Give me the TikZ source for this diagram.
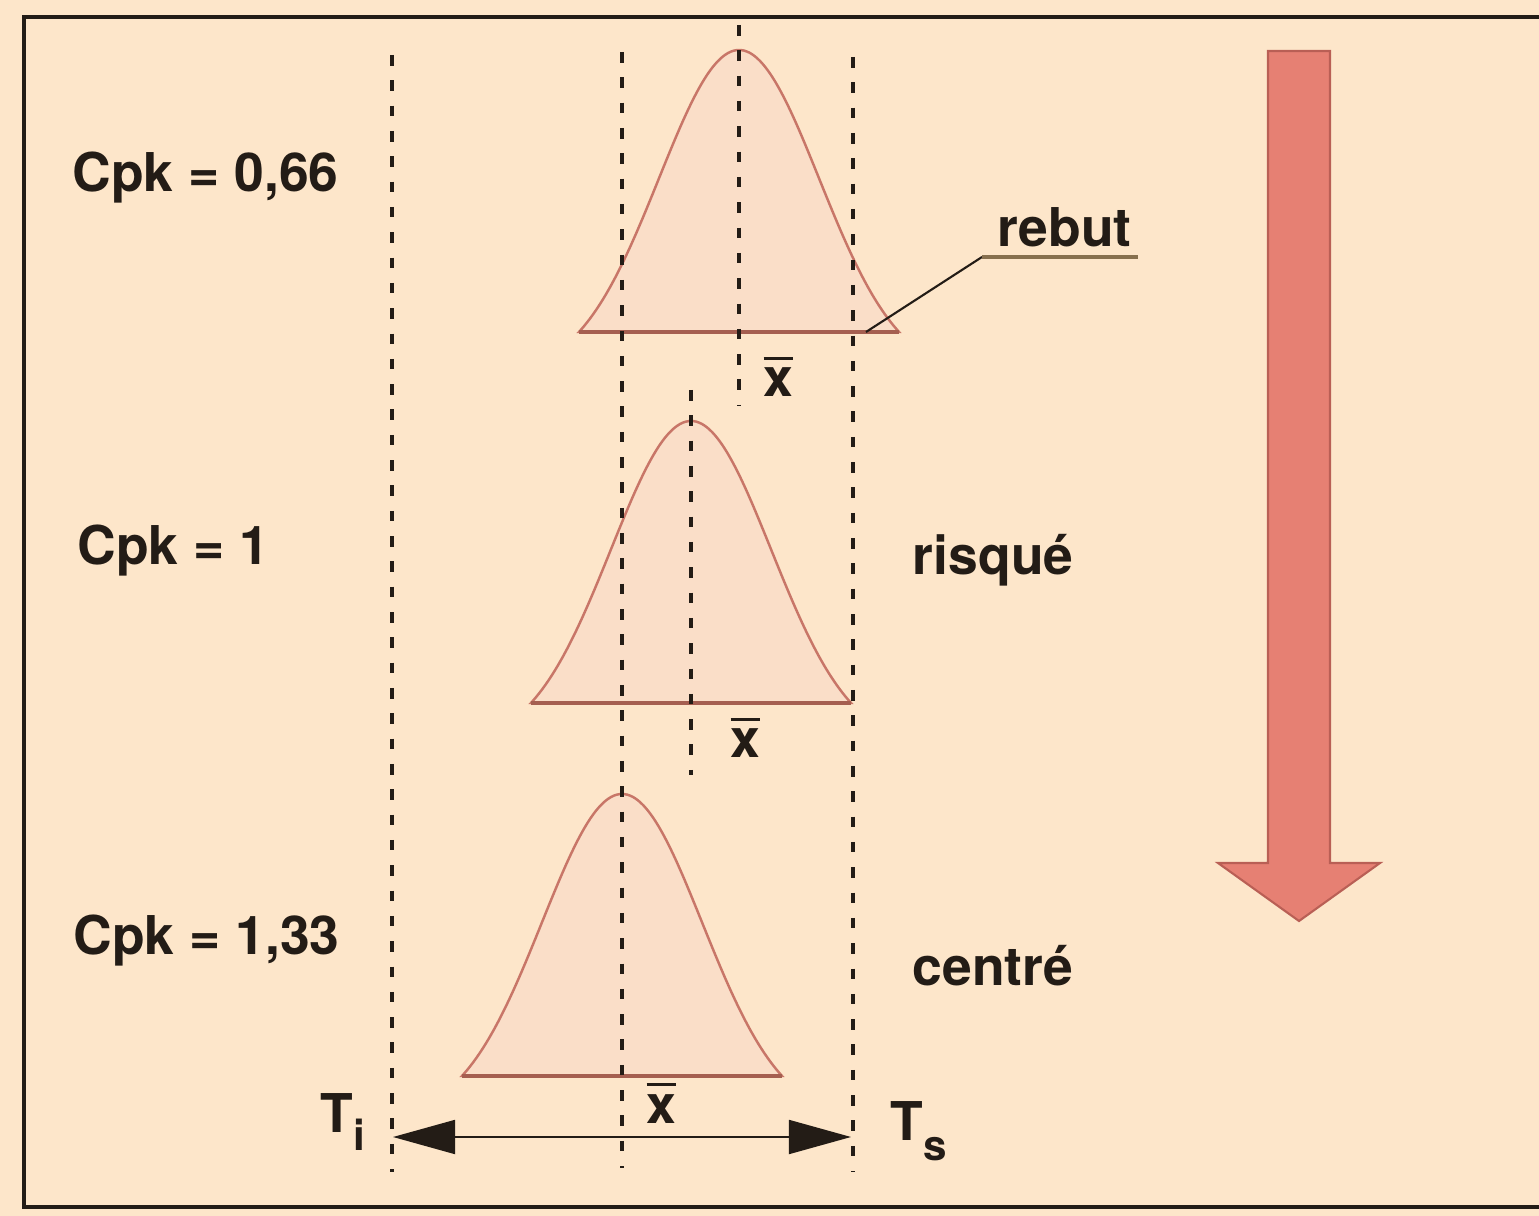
\documentclass[tikz,border=0pt]{standalone}
\usepackage{fontspec}
\setmainfont{TeX Gyre Heros}
\usetikzlibrary{arrows.meta,positioning}
\definecolor{cpkPeach}{RGB}{253,230,202}
\definecolor{cpkBell}{RGB}{250,222,200}
\definecolor{cpkBellLine}{RGB}{200,118,104}
\definecolor{cpkBase}{RGB}{165,95,80}
\definecolor{cpkArrow}{RGB}{230,128,115}
\definecolor{cpkArrowLine}{RGB}{185,95,85}
\definecolor{cpkInk}{RGB}{35,28,22}
\definecolor{cpkUnder}{RGB}{135,112,78}
\newcommand\meanx{\vbox{\hrule height 0.9pt\kern 2.2pt\hbox{x}}}

\begin{document}
\begin{tikzpicture}[x=0.01cm,y=-0.01cm,
        lbl/.style={inner sep=0pt,anchor=base west,text=cpkInk,font=\fontsize{15.2}{18}\selectfont\bfseries},
        guide/.style={draw=cpkInk,line width=0.9pt,dash pattern=on 3pt off 4.2pt},
        bell/.style={fill=cpkBell,draw=cpkBellLine,line width=0.7pt},
        span/.style={{Triangle[length=0.62cm,width=0.34cm]}-{Triangle[length=0.62cm,width=0.34cm]},draw=cpkInk,fill=cpkInk,line width=0.5pt}
      ]
        \useasboundingbox (0,0) rectangle (1539,1216);
        \fill[cpkPeach] (0,0) rectangle (1539,1216);
        \draw[cpkInk,line width=0.9pt] (1539,17) -- (24,17) -- (24,1207) -- (1539,1207);

        % three process distributions
        \foreach \m/\b in {739/332,691/703,622/1076}{
          \draw[bell] plot[domain=-1.6:1.6,samples=61,smooth] ({\m+100*\x},{\b-282*(exp(-\x*\x/1.28)-0.1353)/0.8647}) -- cycle;
          \draw[cpkBase,line width=0.9pt] (\m-160,\b) -- (\m+160,\b);
        }

        % tolerance and mean lines
        \draw[guide] (392,55) -- (392,1172);
        \draw[guide] (622,52) -- (622,1168);
        \draw[guide] (853,57) -- (853,1172);
        \draw[guide] (739,25) -- (739,405);
        \draw[guide] (691,390) -- (691,775);

        % big arrow
        \filldraw[fill=cpkArrow,draw=cpkArrowLine,line width=0.6pt]
          (1268,51) -- (1330,51) -- (1330,863) -- (1380,863) -- (1299,921) -- (1218,863) -- (1268,863) -- cycle;

        \node[lbl] (cpkA) at (72,192) {Cpk = 0,66};
        \node[lbl] (cpkB) at (77,565) {Cpk = 1};
        \node[lbl] (cpkC) at (73,955) {Cpk = 1,33};
        \node[lbl] (rebut) at (997,247) {rebut};
        \node[lbl] (risque) at (912,575) {risqué};
        \node[lbl] (centre) at (912,985) {centré};
        \node[lbl] (meanA) at (763,397) {\meanx};
        \node[lbl] (meanB) at (730,758) {\meanx};
        \node[lbl] (meanC) at (646,1123) {\meanx};
        \node[lbl] (ti) at (320,1132) {T\raisebox{-0.18cm}{\fontsize{12}{12}\selectfont i}};
        \node[lbl] (ts) at (890,1140) {T\raisebox{-0.2cm}{\fontsize{12}{12}\selectfont s}};

        % rebut leader
        \coordinate (rebutFoot) at (866,332);
        \coordinate (rebutBar) at (982,257);
        \coordinate (rebutEnd) at (1138,257);
        \draw[cpkInk,line width=0.6pt] (rebutFoot) -- (rebutBar);
        \draw[cpkUnder,line width=0.9pt] (rebutBar) -- (rebutEnd);

        % tolerance interval
        \coordinate (tiEnd) at (393,1137);
        \coordinate (tsEnd) at (851,1137);
        \draw[span] (tiEnd) -- (tsEnd);
      \end{tikzpicture}
\end{document}
